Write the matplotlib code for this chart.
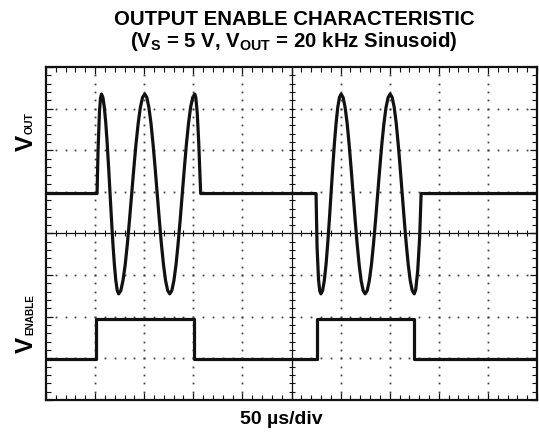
import numpy as np
import matplotlib
matplotlib.use("Agg")
import matplotlib.pyplot as plt
from matplotlib.ticker import MultipleLocator

plt.rcParams['font.family'] = ['Liberation Sans', 'DejaVu Sans']
plt.rcParams['mathtext.fontset'] = 'custom'
plt.rcParams['mathtext.bf'] = 'Liberation Sans:bold'
plt.rcParams['mathtext.rm'] = 'Liberation Sans:bold'
plt.rcParams['mathtext.it'] = 'Liberation Sans:bold'

# ---------------- data (in scope divisions) ----------------
title_line1 = "OUTPUT ENABLE CHARACTERISTIC"
title_line2 = r"($\mathbf{V_S}$ = 5 V, $\mathbf{V_{OUT}}$ = 20 kHz Sinusoid)"
x_label = "50 µs/div"

baseline_v = 4.96

burst1_t = [1.040, 1.060, 1.090, 1.110, 1.130,
            1.159, 1.188, 1.218, 1.247, 1.276, 1.305, 1.334, 1.363, 1.393, 1.422, 1.451, 1.480,
            1.524, 1.568, 1.613, 1.657, 1.701, 1.745, 1.789, 1.833, 1.878, 1.922, 1.966, 2.010,
            2.053, 2.095, 2.138, 2.180, 2.223, 2.265, 2.308, 2.350, 2.393, 2.435, 2.478, 2.520,
            2.563, 2.605, 2.648, 2.690, 2.733, 2.775, 2.818, 2.860, 2.903, 2.945, 2.988, 3.030,
            3.050, 3.080, 3.110, 3.150]
burst1_v = [4.96, 6.00, 6.95, 7.25, 7.35,
            7.27, 7.03, 6.65, 6.15, 5.57, 4.95, 4.33, 3.75, 3.25, 2.87, 2.63, 2.55,
            2.63, 2.87, 3.25, 3.75, 4.33, 4.95, 5.57, 6.15, 6.65, 7.03, 7.27, 7.35,
            7.27, 7.03, 6.65, 6.15, 5.57, 4.95, 4.33, 3.75, 3.25, 2.87, 2.63, 2.55,
            2.63, 2.87, 3.25, 3.75, 4.33, 4.95, 5.57, 6.15, 6.65, 7.03, 7.27, 7.35,
            7.28, 6.90, 6.20, 4.96]

burst2_t = [5.500, 5.520, 5.550, 5.575, 5.600,
            5.634, 5.668, 5.703, 5.737, 5.771, 5.805, 5.839, 5.873, 5.908, 5.942, 5.976, 6.010,
            6.051, 6.092, 6.133, 6.173, 6.214, 6.255, 6.296, 6.337, 6.378, 6.418, 6.459, 6.500,
            6.543, 6.585, 6.628, 6.670, 6.713, 6.755, 6.798, 6.840, 6.883, 6.925, 6.968, 7.010,
            7.051, 7.092, 7.133, 7.173, 7.214, 7.255, 7.296, 7.337, 7.378, 7.418, 7.459, 7.500,
            7.530, 7.570, 7.610, 7.640]
burst2_v = [4.96, 3.70, 2.90, 2.62, 2.55,
            2.63, 2.87, 3.25, 3.75, 4.33, 4.95, 5.57, 6.15, 6.65, 7.03, 7.27, 7.35,
            7.27, 7.03, 6.65, 6.15, 5.57, 4.95, 4.33, 3.75, 3.25, 2.87, 2.63, 2.55,
            2.63, 2.87, 3.25, 3.75, 4.33, 4.95, 5.57, 6.15, 6.65, 7.03, 7.27, 7.35,
            7.27, 7.03, 6.65, 6.15, 5.57, 4.95, 4.33, 3.75, 3.25, 2.87, 2.63, 2.55,
            2.65, 3.10, 3.90, 4.96]

enable_t = [0.0, 1.02, 3.01, 5.51, 7.50, 10.0]
enable_v = [0.98, 1.95, 0.98, 1.95, 0.98, 0.98]

# ---------------- figure ----------------
W, H = 539, 436
fig = plt.figure(figsize=(W / 100, H / 100), dpi=100)
L, R, T, B = 46, 537, 67, 400
ax = fig.add_axes([L / W, 1 - B / H, (R - L) / W, (B - T) / H])
ax.set_xlim(0, 10)
ax.set_ylim(0, 8)

# dotted graticule
dot_kw = dict(linestyle='none', marker='s', ms=1.3, mew=0, color='#444444', zorder=1)
minor_y = np.arange(0.2, 8.0, 0.2)
minor_x = np.arange(0.2, 10.0, 0.2)
for gx in [1, 2, 3, 4, 6, 7, 8, 9]:
    ax.plot(np.full_like(minor_y, gx), minor_y, **dot_kw)
for gy in [1, 2, 3, 5, 6, 7]:
    ax.plot(minor_x, np.full_like(minor_x, gy), **dot_kw)

# centre cross with ticks
ax.axhline(4, color='#111111', lw=0.9, zorder=2)
ax.axvline(5, color='#111111', lw=0.9, zorder=2)
ax.plot(minor_x, np.full_like(minor_x, 4), linestyle='none', marker='|', ms=4.5,
        mew=0.8, color='#111111', zorder=2)
ax.plot(np.full_like(minor_y, 5), minor_y, linestyle='none', marker='_', ms=4.5,
        mew=0.8, color='#111111', zorder=2)

# frame ticks
ax.xaxis.set_major_locator(MultipleLocator(1))
ax.yaxis.set_major_locator(MultipleLocator(1))
ax.xaxis.set_minor_locator(MultipleLocator(0.2))
ax.yaxis.set_minor_locator(MultipleLocator(0.2))
ax.tick_params(which='both', direction='in', top=True, right=True,
               labelbottom=False, labelleft=False, color='#111111')
ax.tick_params(which='major', length=5, width=0.9)
ax.tick_params(which='minor', length=3.5, width=0.8)
for s in ax.spines.values():
    s.set_linewidth(1.6)
    s.set_color('#111111')

# traces
vout_t = [0.0] + burst1_t + burst2_t + [10.0]
vout_v = [baseline_v] + burst1_v + burst2_v + [baseline_v]
ax.plot(vout_t, vout_v, color='#111111', lw=2.3, solid_joinstyle='round', zorder=5)
ax.plot(enable_t, enable_v, drawstyle='steps-post', color='#111111', lw=2.3, zorder=5)

# titles
fig.text(294 / W, 1 - 25 / H, title_line1, ha='center', va='baseline',
         fontsize=14.7, fontweight='bold')
fig.text(294 / W, 1 - 47 / H, title_line2, ha='center', va='baseline',
         fontsize=14.7, fontweight='bold')
fig.text(281 / W, 1 - 424 / H, x_label, ha='center', va='baseline',
         fontsize=14, fontweight='bold')

# y labels (V with small caps subscript)
lab_kw = dict(rotation=90, rotation_mode='anchor', ha='left', va='baseline',
              fontweight='bold')
fig.text(33 / W, 1 - 151 / H, "V", fontsize=17.5, **lab_kw)
fig.text(33 / W, 1 - 134 / H, "OUT", fontsize=7.5, **lab_kw)
fig.text(33 / W, 1 - 353 / H, "V", fontsize=17.5, **lab_kw)
fig.text(33 / W, 1 - 335 / H, "ENABLE", fontsize=7.2, **lab_kw)

fig.savefig("out.png", dpi=100)
